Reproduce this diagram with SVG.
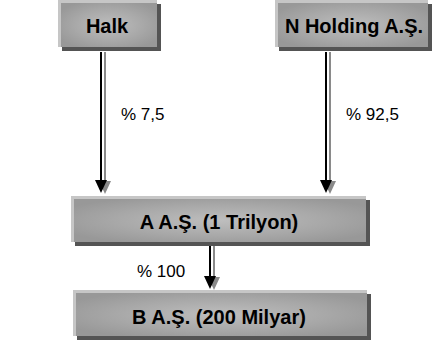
<svg xmlns="http://www.w3.org/2000/svg" width="432" height="343" viewBox="0 0 432 343">
  <style>
    .shadow { fill: #545454; }
    .bevel { fill: #c6c6c6; }
    .face { fill: url(#faceGrad); }
    .title { font-family: "Liberation Sans", Arial, sans-serif; font-weight: bold; font-size: 20px; fill: #000; text-anchor: middle; }
    .pct { font-family: "Liberation Sans", Arial, sans-serif; font-size: 17px; fill: #000; }
    .line-main { stroke: #000; stroke-width: 2; fill: none; }
    .line-shade { stroke: #8a8a8a; stroke-width: 2; fill: none; }
    .head-main { fill: #000; }
    .head-shade { fill: #8a8a8a; }
  </style>
  <defs>
    <radialGradient id="faceGrad" cx="0.5" cy="0.5" r="0.6">
      <stop offset="0" stop-color="#bebebe"/>
      <stop offset="0.6" stop-color="#a8a8a8"/>
      <stop offset="1" stop-color="#989898"/>
    </radialGradient>
  </defs>

  <rect width="432" height="343" fill="#fff"/>

  <!-- connectors: double line with a grey offset shade -->
  <g id="connectors">
    <!-- Halk -> A -->
    <line class="line-shade" x1="105" y1="52" x2="105" y2="182"/>
    <polygon class="head-shade" points="99,181 111,181 105,194"/>
    <line class="line-main" x1="101" y1="52" x2="101" y2="182"/>
    <polygon class="head-main" points="95,180 107,180 101,193"/>

    <!-- N Holding -> A -->
    <line class="line-shade" x1="330" y1="52" x2="330" y2="182"/>
    <polygon class="head-shade" points="324,181 336,181 330,194"/>
    <line class="line-main" x1="326" y1="52" x2="326" y2="182"/>
    <polygon class="head-main" points="320,180 332,180 326,193"/>

    <!-- A -> B -->
    <line class="line-shade" x1="214" y1="246" x2="214" y2="278"/>
    <polygon class="head-shade" points="208,277 220,277 214,290"/>
    <line class="line-main" x1="210" y1="246" x2="210" y2="278"/>
    <polygon class="head-main" points="204,276 216,276 210,289"/>

    <text class="pct" x="121" y="120">% 7,5</text>
    <text class="pct" x="346" y="120">% 92,5</text>
    <text class="pct" x="137" y="277">% 100</text>
  </g>

  <g id="halk">
    <rect class="shadow" x="62" y="4" width="99" height="47"/>
    <rect class="bevel" x="58" y="0" width="99" height="47"/>
    <rect class="face" x="61" y="3" width="96" height="44"/>
    <text class="title" x="107" y="33">Halk</text>
  </g>

  <g id="n-holding">
    <rect class="shadow" x="279" y="4" width="153" height="47"/>
    <rect class="bevel" x="275" y="0" width="153" height="47"/>
    <rect class="face" x="278" y="3" width="150" height="44"/>
    <text class="title" x="354" y="33">N Holding A.Ş.</text>
  </g>

  <g id="a-as">
    <rect class="shadow" x="75" y="200" width="295" height="46"/>
    <rect class="bevel" x="71" y="196" width="295" height="46"/>
    <rect class="face" x="74" y="199" width="292" height="43"/>
    <text class="title" x="219" y="229">A A.Ş. (1 Trilyon)</text>
  </g>

  <g id="b-as">
    <rect class="shadow" x="77" y="294" width="294" height="46"/>
    <rect class="bevel" x="73" y="290" width="294" height="46"/>
    <rect class="face" x="76" y="293" width="291" height="43"/>
    <text class="title" x="219" y="324">B A.Ş. (200 Milyar)</text>
  </g>
</svg>
